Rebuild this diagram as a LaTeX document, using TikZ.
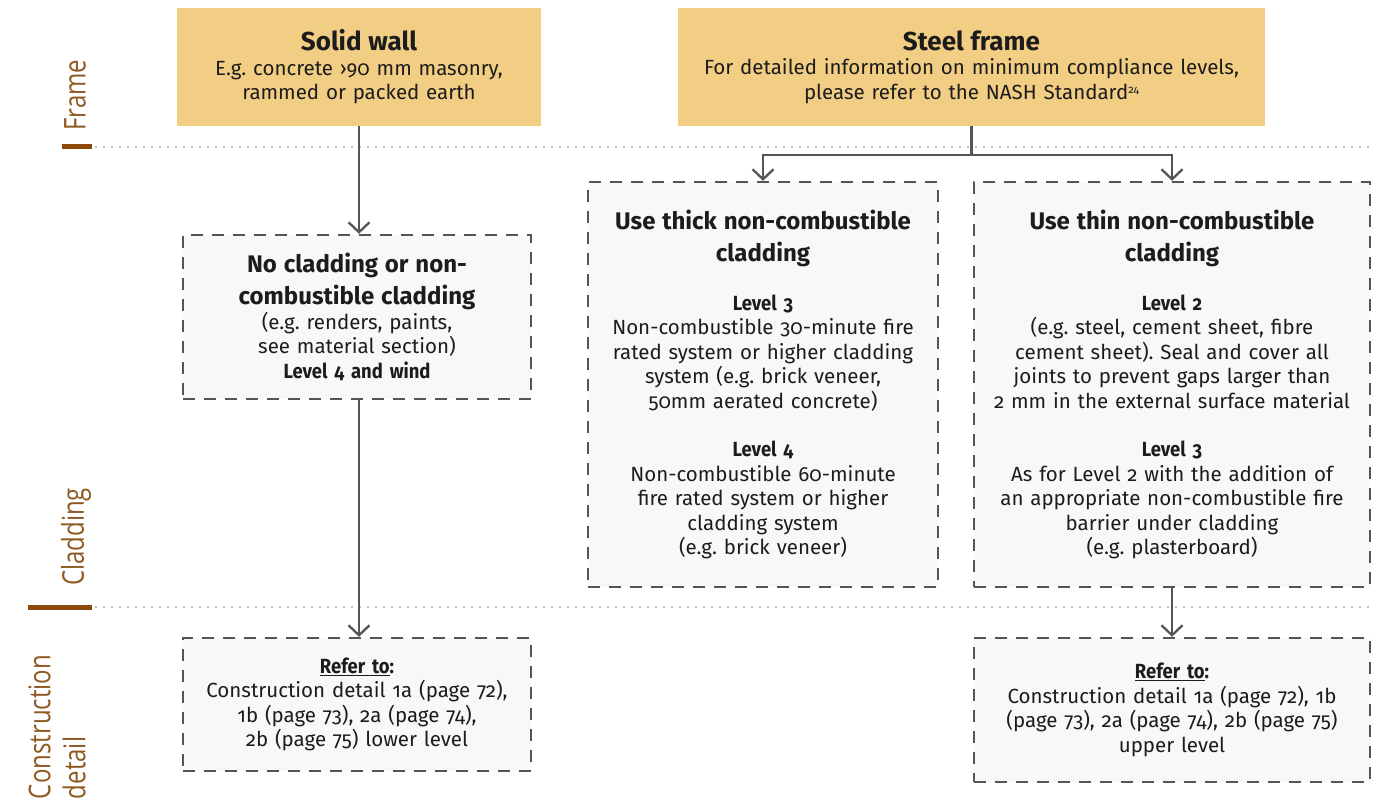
\documentclass[tikz,border=0pt]{standalone}
\usepackage{fontspec}
\setmainfont{Fira Sans}[Numbers=OldStyle]
\newfontfamily\condfont{Fira Sans}[Numbers=OldStyle,FakeStretch=0.9]
\newfontfamily\sidefont{Open Sans}[FakeStretch=0.8]
\usetikzlibrary{arrows.meta}
\frenchspacing

\definecolor{gold}{HTML}{F2CD84}
\definecolor{boxfill}{HTML}{F8F8F8}
\definecolor{edge}{HTML}{555555}
\definecolor{ink}{HTML}{1C1C1C}
\definecolor{bandbrown}{HTML}{8B4A0C}
\definecolor{sidebrown}{HTML}{8E5A22}
\definecolor{dotline}{HTML}{B9B38F}

\newcommand\bodyfont{\fontsize{20.5}{24.5}\selectfont}
\newcommand\headfont{\bfseries\fontsize{26}{30}\selectfont}
\newcommand\ttlfont{\bfseries\fontsize{24}{32}\selectfont}
\newcommand\lvl[1]{{\condfont\bfseries #1}}

\tikzset{
  framebox/.style={fill=gold, draw=none, align=center, text=ink,
    inner xsep=5pt, inner ysep=0pt},
  optbox/.style={draw=edge, fill=boxfill, line width=2.3pt,
    dash pattern=on 12pt off 9pt, align=center, text=ink,
    inner xsep=5pt, inner ysep=0pt},
  flow/.style={draw=edge, line width=2.3pt,
    -{Straight Barb[length=10pt,width=21pt,line width=2.3pt]}},
  link/.style={draw=edge, line width=2.3pt},
  rowline/.style={dotline, line width=2.4pt, line cap=round,
    dash pattern=on 0pt off 8pt},
  rowmark/.style={bandbrown, line width=5pt},
  sidelabel/.style={text=sidebrown, rotate=90, inner sep=0pt,
    font=\sidefont\fontsize{30}{35}\selectfont},
}

\begin{document}
\begin{tikzpicture}[x=1pt, y=-1pt, font=\bodyfont]
\useasboundingbox (0,0) rectangle (1392,810);

% row separators
\draw[rowline] (96,147) -- (1372,147);
\draw[rowline] (96,607) -- (1372,607);
\draw[rowmark] (62,147) -- (92,147);
\draw[rowmark] (28,607) -- (92,607);

% row titles
\node[sidelabel] (lframe) at (75,95) {Frame};
\node[sidelabel] (lclad) at (76,537) {Cladding};
\node[sidelabel, align=left] (lcons) at (57,727) {Construction\\detail};

% frame boxes
\node[framebox, text width=354pt, minimum height=118pt] (solid) at (359,67)
  {{\headfont Solid wall\par}
   E.g. concrete ›90 mm masonry,\\rammed or packed earth};
\node[framebox, text width=577pt, minimum height=118pt] (steel) at (971.5,67)
  {{\headfont Steel frame\par}
   For detailed information on minimum compliance levels,\\please refer to the NASH Standard\raisebox{0.55ex}{\fontsize{11}{11}\selectfont 24}};

% cladding boxes
\node[optbox, text width=338pt, minimum height=164pt] (nocl) at (357,317)
  {{\ttlfont No cladding or non-\\combustible cladding\par}
   (e.g. renders, paints,\\see material section)\\\lvl{Level 4 and wind}};
\node[optbox, text width=340pt, minimum height=405pt] (thick) at (763,384.5)
  {{\ttlfont Use thick non-combustible\\cladding\par}\vspace{24pt}
   \lvl{Level 3}\\Non-combustible 30-minute fire\\rated system or higher cladding\\system (e.g. brick veneer,\\50mm aerated concrete)\par\vspace{24pt}
   \lvl{Level 4}\\Non-combustible 60-minute\\fire rated system or higher\\cladding system\\(e.g. brick veneer)};
\node[optbox, text width=386pt, minimum height=405pt] (thin) at (1172,384.5)
  {{\ttlfont Use thin non-combustible\\cladding\par}\vspace{24pt}
   \lvl{Level 2}\\(e.g. steel, cement sheet, fibre\\cement sheet). Seal and cover all\\joints to prevent gaps larger than\\2 mm in the external surface material\par\vspace{24pt}
   \lvl{Level 3}\\As for Level 2 with the addition of\\an appropriate non-combustible fire\\barrier under cladding\\(e.g. plasterboard)};

% construction detail boxes
\node[optbox, text width=338pt, minimum height=133pt] (refl) at (357,704.5)
  {\lvl{\underline{Refer to}:}\\Construction detail 1a (page 72),\\1b (page 73), 2a (page 74),\\2b (page 75) lower level};
\node[optbox, text width=386pt, minimum height=144pt] (refr) at (1172,710)
  {\lvl{\underline{Refer to}:}\\Construction detail 1a (page 72), 1b\\(page 73), 2a (page 74), 2b (page 75)\\upper level};

% connectors
\draw[flow] (solid.south) -- (solid.south |- nocl.north);
\draw[flow] (solid.south |- nocl.south) -- (solid.south |- refl.north);
\coordinate (split) at ([yshift=-29pt]steel.south);
\draw[link] (steel.south) -- (split);
\draw[flow] (split) -| (thick.north);
\draw[flow] (split) -| (thin.north);
\draw[flow] (thin.south) -- (refr.north);
\end{tikzpicture}
\end{document}
